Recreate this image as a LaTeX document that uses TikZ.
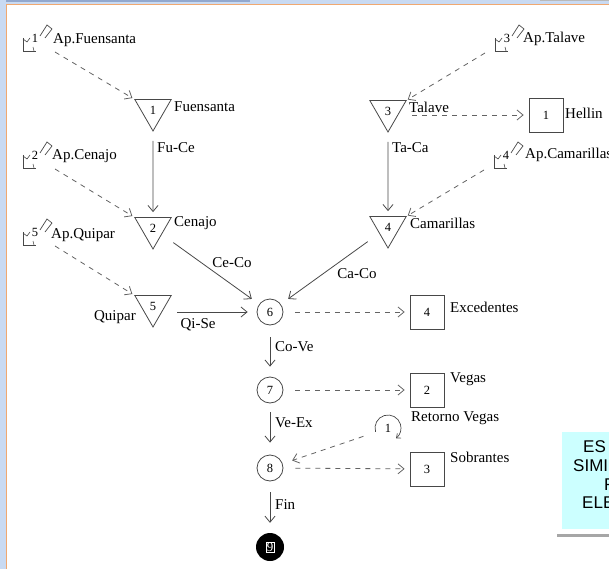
\documentclass[tikz,border=0pt]{standalone}
\usepackage{fontspec}
\setmainfont{Liberation Serif}
\setsansfont{Liberation Sans}
\usetikzlibrary{shapes.geometric,arrows.meta}

\definecolor{marcoazul}{RGB}{201,218,242}
\definecolor{marcooscuro}{RGB}{146,168,206}
\definecolor{marconaranja}{RGB}{240,168,112}
\definecolor{cajacian}{RGB}{204,255,255}
\definecolor{linea}{RGB}{72,72,72}

\tikzset{
  aport/.pic={
    \draw[linea,line width=0.7pt] (-12,0) -- (-12,13) -- (1,13);
    \draw[linea,line width=0.6pt] (-12,1) -- (-8,4) -- (-5,0);
    \draw[linea,line width=0.6pt] (-2,9) -- (-1,13);
    \draw[linea,line width=0.7pt] (5,-2) -- (12,-13) -- (17,-9) -- (10,0);
    \node[font=\fontsize{12.5}{12.5}\selectfont,inner sep=0pt] at (0,0) {#1};
    \coordinate (-izq) at (20,14);
    \coordinate (-der) at (-22,15);
  }
}

\begin{document}
\begin{tikzpicture}[x=1pt,y=-1pt,
  >={Straight Barb[length=6pt,width=10pt]},
  every node/.style={font=\fontsize{15}{16}\selectfont},
  embalse/.style={draw=linea,line width=0.8pt,regular polygon,regular polygon sides=3,
    shape border rotate=180,minimum size=42pt,inner sep=0pt,font=\fontsize{12.5}{12.5}\selectfont},
  nudo/.style={draw=linea,line width=0.8pt,circle,minimum size=26pt,inner sep=0pt,font=\fontsize{12.5}{12.5}\selectfont},
  demanda/.style={draw=linea,line width=0.8pt,rectangle,minimum size=34pt,inner sep=0pt,font=\fontsize{12.5}{12.5}\selectfont},
  cauce/.style={->,draw=linea,line width=0.8pt},
  aporte/.style={->,draw=linea!85,line width=0.8pt,dash pattern=on 5pt off 5pt},
  etiq/.style={inner sep=0pt}]
\useasboundingbox (0,0) rectangle (609,569);

% marco de la ventana
\fill[marcoazul] (0,0) rectangle (609,4);
\fill[marcooscuro] (0,0) rectangle (250,2);
\fill[gray!55] (540,0) rectangle (609,1.5);
\fill[marcoazul] (0,0) rectangle (6,569);
\draw[marconaranja,line width=1.3pt] (6.6,569) -- (6.6,4.6) -- (609,4.6);

% aportaciones
\pic (ap1) at (35,38) {aport=1};
\pic (ap2) at (35,155) {aport=2};
\pic (ap5) at (35,232) {aport=5};
\pic (ap3) at (507,38) {aport=3};
\pic (ap4) at (506,155) {aport=4};
\node[etiq,anchor=west] (lap1) at (53,40) {Ap.Fuensanta};
\node[etiq,anchor=west] (lap2) at (52,156) {Ap.Cenajo};
\node[etiq,anchor=west] (lap5) at (51,235) {Ap.Quipar};
\node[etiq,anchor=west] (lap3) at (523,39) {Ap.Talave};
\node[etiq,anchor=west] (lap4) at (525,155) {Ap.Camarillas};

% embalses
\node[embalse] (t1) at (153,110) {1};
\node[embalse] (t2) at (153,228) {2};
\node[embalse] (t5) at (153,306) {5};
\node[embalse] (t3) at (388,111) {3};
\node[embalse] (t4) at (388,227) {4};
\node[etiq,anchor=west] (lt1) at (174,107) {Fuensanta};
\node[etiq,anchor=west] (lt2) at (174,223) {Cenajo};
\node[etiq,anchor=east] (lt5) at (136,317) {Quipar};
\node[etiq,anchor=west] (lt3) at (409,107) {Talave};
\node[etiq,anchor=west] (lt4) at (410,223) {Camarillas};

% nudos
\node[nudo] (c6) at (270,312) {6};
\node[nudo] (c7) at (270,390) {7};
\node[nudo] (c8) at (270,468) {8};
\node[circle,fill=black,minimum width=27pt,minimum height=28pt,inner sep=0pt] (n9) at (270,547) {};
\node[draw=white,text=white,line width=0.7pt,inner sep=0.6pt,font=\fontsize{13}{13}\selectfont] (l9) at (n9) {9};

% demandas
\node[demanda] (b1) at (546,115) {1};
\node[demanda] (b4) at (427,312) {4};
\node[demanda] (b2) at (427,390) {2};
\node[demanda] (b3) at (427,469) {3};
\node[etiq,anchor=west] (lb1) at (565,113) {Hellin};
\node[etiq,anchor=west] (lb4) at (450,307) {Excedentes};
\node[etiq,anchor=west] (lb2) at (450,379) {Vegas};
\node[etiq,anchor=west] (lb3) at (450,457) {Sobrantes};

% retorno
\coordinate (ret) at (388,428);
\draw[linea,line width=0.7pt,-{Straight Barb[length=3.5pt,width=6pt]}] (ret) ++(163:13) arc[start angle=163,end angle=412,radius=13];
\node[font=\fontsize{12.5}{12.5}\selectfont,inner sep=0pt] (lret) at (ret) {1};
\node[etiq,anchor=west] (lret2) at (411,418) {Retorno Vegas};

% cauces
\draw[cauce,shorten <=9pt,shorten >=5pt] (t1.corner 1) -- (t2.north);
\draw[cauce,shorten <=9pt,shorten >=5pt] (t3.corner 1) -- (t4.north);
\draw[cauce,shorten <=25pt,shorten >=9pt] (t2.center) -- (c6);
\draw[cauce,shorten <=25pt,shorten >=9pt] (t4.center) -- (c6);
\draw[cauce,shorten <=24pt,shorten >=9pt] (t5.center |- c6) -- (c6);
\draw[cauce,shorten <=12pt,shorten >=10pt] (c6) -- (c7);
\draw[cauce,shorten <=9pt,shorten >=12pt] (c7) -- (c8);
\draw[cauce,shorten <=11pt,shorten >=10pt] (c8) -- (n9);
\node[etiq,anchor=west] (lfc) at (157,148) {Fu-Ce};
\node[etiq,anchor=west] (ltc) at (392,148) {Ta-Ca};
\node[etiq] (lcc) at (232,263) {Ce-Co};
\node[etiq] (lca) at (357,274) {Ca-Co};
\node[etiq] (lqs) at (198,325) {Qi-Se};
\node[etiq,anchor=west] (lcv) at (275,347) {Co-Ve};
\node[etiq,anchor=west] (lve) at (275,423) {Ve-Ex};
\node[etiq,anchor=west] (lfin) at (275,505) {Fin};

% aportes y derivaciones
\draw[aporte,shorten >=2pt] (ap1-izq) -- (t1.corner 3);
\draw[aporte,shorten >=2pt] (ap2-izq) -- (t2.corner 3);
\draw[aporte,shorten >=2pt] (ap5-izq) -- (t5.corner 3);
\draw[aporte,shorten >=1pt] (ap3-der) -- (t3.corner 2);
\draw[aporte,shorten >=1pt] (ap4-der) -- (t4.corner 2);
\draw[aporte,shorten <=24pt,shorten >=5pt] (t3.center |- b1) -- (b1);
\draw[aporte,shorten <=12pt,shorten >=5pt] (c6) -- (b4);
\draw[aporte,shorten <=12pt,shorten >=5pt] (c7) -- (b2);
\draw[aporte,shorten <=12pt,shorten >=5pt] (c8) -- (b3);
\draw[aporte,shorten <=26pt,shorten >=10pt] (ret) -- (c8);

% cuadro recortado
\begin{scope}
\clip (562,432) rectangle (609,529);
\fill[cajacian] (562,432) rectangle (609,529);
\node[etiq,anchor=west,font=\sffamily\fontsize{17}{17}\selectfont] (q1) at (583,447) {ES};
\node[etiq,anchor=west,font=\sffamily\fontsize{17}{17}\selectfont] (q2) at (573,466) {SIMI};
\node[etiq,anchor=west,font=\sffamily\fontsize{17}{17}\selectfont] (q3) at (604,485) {R};
\node[etiq,anchor=west,font=\sffamily\fontsize{17}{17}\selectfont] (q4) at (582,503) {ELE};
\end{scope}
\fill[gray!70] (557,534) rectangle (609,537);
\end{tikzpicture}
\end{document}
